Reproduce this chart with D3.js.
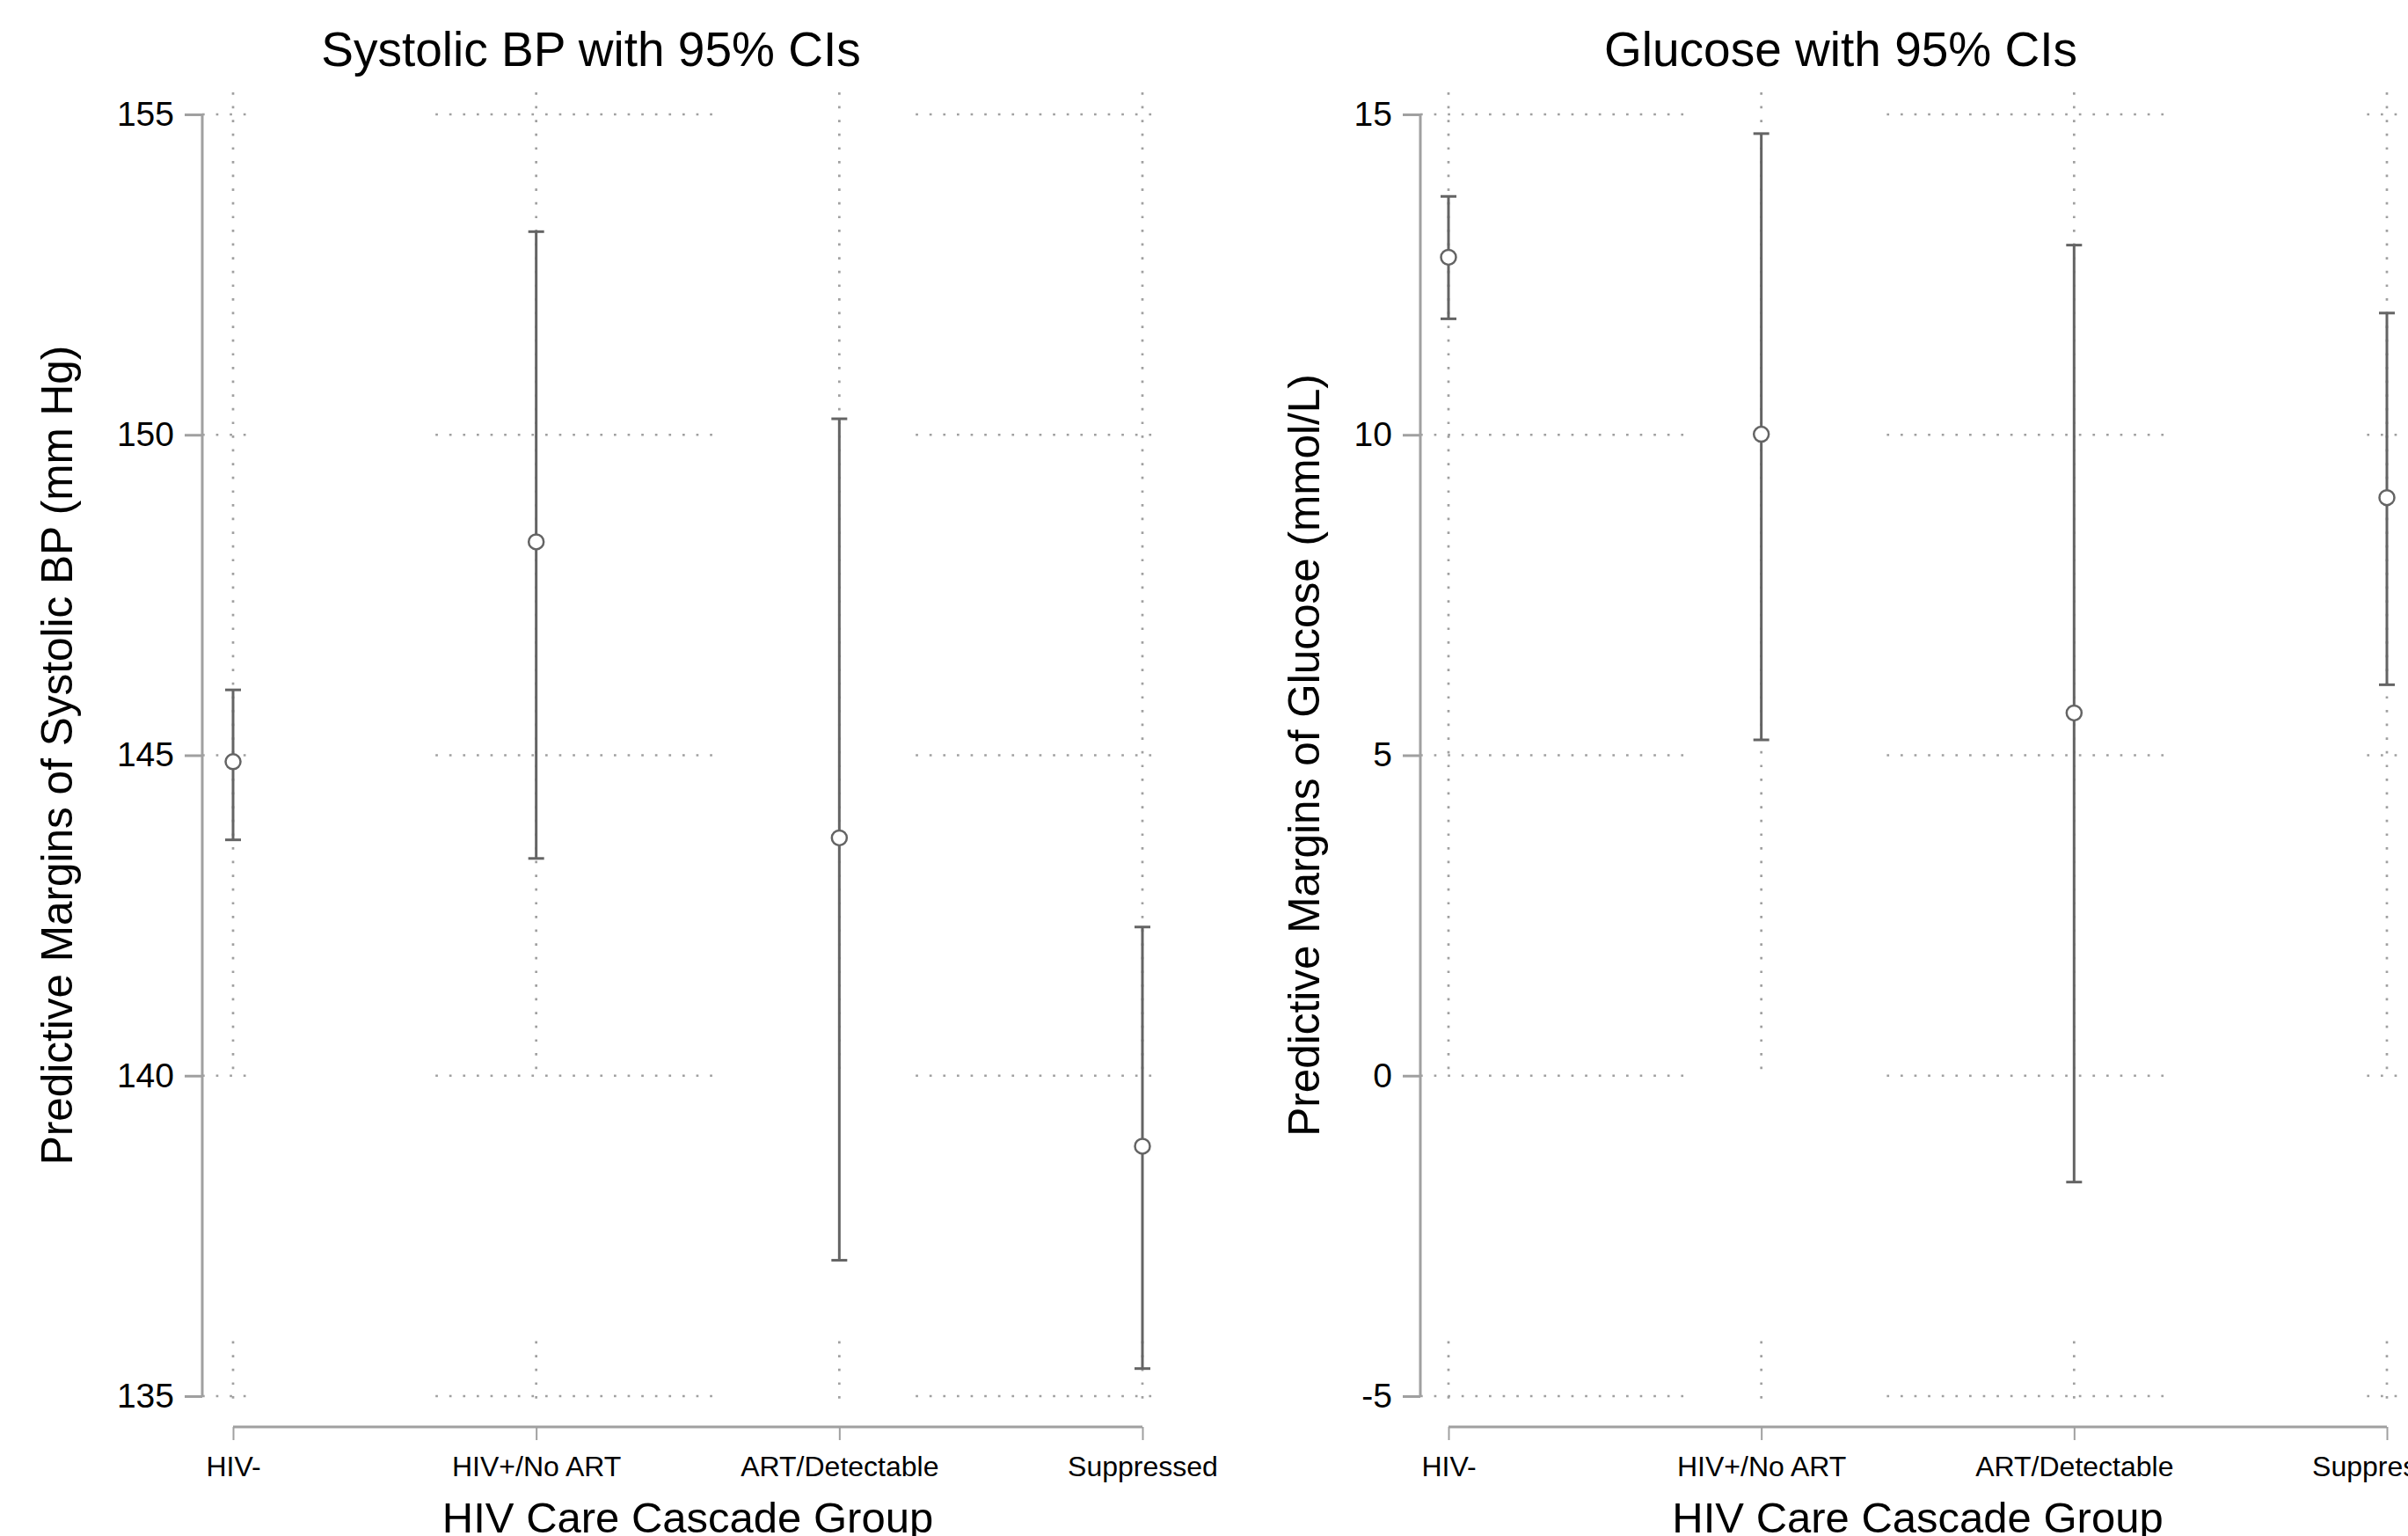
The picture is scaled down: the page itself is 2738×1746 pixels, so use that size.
<!DOCTYPE html>
<html>
<head>
<meta charset="utf-8">
<script src="https://cdn.jsdelivr.net/npm/d3@7"></script>
<style>
  html, body { margin: 0; padding: 0; background: #ffffff; }
  svg { display: block; }
  text { font-family: "Liberation Sans", Arial, Helvetica, sans-serif; fill: #000; }
</style>
</head>
<body>
<svg id="chart" width="2738" height="1746"></svg>
<script>
// ---------------- data ----------------
const categories = ["HIV-", "HIV+/No ART", "ART/Detectable", "Suppressed"];

const sbpMargin = [144.90, 148.33, 143.71, 138.90];
const sbpLower  = [143.68, 143.39, 137.12, 135.43];
const sbpUpper  = [146.02, 153.17, 150.25, 142.32];
const sbpTicks  = [135, 140, 145, 150, 155];

const gluMargin = [12.77, 10.01, 5.66, 9.02];
const gluLower  = [11.81, 5.24, -1.66, 6.10];
const gluUpper  = [13.72, 14.70, 12.96, 11.90];
const gluTicks  = [-5, 0, 5, 10, 15];

const titles  = ["Systolic BP with 95% CIs", "Glucose with 95% CIs"];
const yTitles = ["Predictive Margins of Systolic BP (mm Hg)", "Predictive Margins of Glucose (mmol/L)"];
const xTitle  = "HIV Care Cascade Group";

// ---------------- layout ----------------
const panels = [
  { margin: sbpMargin, lower: sbpLower, upper: sbpUpper, ticks: sbpTicks,
    title: titles[0], yTitle: yTitles[0],
    axisX: 230, xRange: [265, 1299], gridRight: 1322, titleX: 672, yTitleX: 82, moirePhase: 495 },
  { margin: gluMargin, lower: gluLower, upper: gluUpper, ticks: gluTicks,
    title: titles[1], yTitle: yTitles[1],
    axisX: 1615, xRange: [1647, 2714], gridRight: 2740, titleX: 2093, yTitleX: 1500, moirePhase: 2144 }
];
const yTop = 130, yBottom = 1587, plotTop = 105, plotBottom = 1605, xAxisY = 1622;

const svg = d3.select("#chart");
const barColor = "#646464", axisColor = "#a0a0a0", gridColor = "#a0a0a0";

const DOT = 2.7, STEP = 15.6;
// dotted pattern that only shows dots inside the given windows (relative to line start),
// imitating the partly vanished dotted grid of the reference raster
function windowDash(len, windows) {
  const segs = [];
  for (let s = 0; s < len; s += STEP) {
    if (windows.some(([a, b]) => s >= a && s + DOT <= b)) segs.push(s);
  }
  if (!segs.length) return "0 " + (len + 10);
  const arr = [];
  if (segs[0] > 0) arr.push(0, segs[0]);
  segs.forEach((s, i) => {
    const next = i + 1 < segs.length ? segs[i + 1] : len + 10;
    arr.push(DOT, next - s - DOT);
  });
  return arr.join(" ");
}
const P = 545, V = 330;

panels.forEach(p => {
  const x = d3.scalePoint().domain(categories).range(p.xRange);
  const y = d3.scaleLinear().domain([d3.min(p.ticks), d3.max(p.ticks)]).range([yBottom, yTop]);
  const g = svg.append("g");

  // horizontal grid lines (visible windows repeat every P px)
  const hLen = p.gridRight - p.axisX;
  const hWin = [];
  for (let k = -2; k < 6; k++) {
    const a = p.moirePhase + k * P - p.axisX;
    hWin.push([a, a + V]);
  }
  const hDash = windowDash(hLen, hWin);
  g.append("g").selectAll("line").data(p.ticks).join("line")
    .attr("x1", p.axisX).attr("x2", p.gridRight)
    .attr("y1", d => y(d)).attr("y2", d => y(d))
    .attr("stroke", gridColor).attr("stroke-width", DOT)
    .attr("stroke-dasharray", hDash);

  // vertical grid lines
  const vLen = plotBottom - plotTop;
  const vDash = windowDash(vLen, [[0, y(p.ticks[1]) - plotTop + 2], [1519 - plotTop, vLen]]);
  g.append("g").selectAll("line").data(categories).join("line")
    .attr("x1", d => x(d)).attr("x2", d => x(d))
    .attr("y1", plotTop).attr("y2", plotBottom)
    .attr("stroke", gridColor).attr("stroke-width", DOT)
    .attr("stroke-dasharray", vDash);

  // y axis
  const yAxis = d3.axisLeft(y).tickValues(p.ticks).tickSize(20).tickPadding(12).tickFormat(d => String(d));
  const ya = g.append("g").attr("transform", `translate(${p.axisX},0)`).call(yAxis);
  ya.select(".domain").attr("d", `M0,${yTop}V${yBottom}`).attr("stroke", axisColor).attr("stroke-width", 3);
  ya.selectAll(".tick line").attr("stroke", axisColor).attr("stroke-width", 3);
  ya.selectAll(".tick text").attr("font-size", 39).attr("font-family", "Liberation Sans, Arial, sans-serif").attr("fill", "#000");

  // x axis
  const xAxis = d3.axisBottom(x).tickSize(15).tickPadding(40);
  const xa = g.append("g").attr("transform", `translate(0,${xAxisY})`).call(xAxis);
  xa.select(".domain").attr("d", `M${p.xRange[0]},0H${p.xRange[1]}`).attr("stroke", axisColor).attr("stroke-width", 3);
  xa.selectAll(".tick line").attr("stroke", axisColor).attr("stroke-width", 2);
  xa.selectAll(".tick text").attr("font-size", 32).attr("dy", null).attr("y", 56)
    .attr("font-family", "Liberation Sans, Arial, sans-serif").attr("fill", "#000");

  // error bars
  const idx = d3.range(categories.length);
  const bars = g.append("g");
  bars.selectAll("line.ci").data(idx).join("line").attr("class", "ci")
    .attr("x1", i => x(categories[i])).attr("x2", i => x(categories[i]))
    .attr("y1", i => y(p.lower[i])).attr("y2", i => y(p.upper[i]))
    .attr("stroke", barColor).attr("stroke-width", 3);
  bars.selectAll("line.capU").data(idx).join("line").attr("class", "capU")
    .attr("x1", i => x(categories[i]) - 9).attr("x2", i => x(categories[i]) + 9)
    .attr("y1", i => y(p.upper[i])).attr("y2", i => y(p.upper[i]))
    .attr("stroke", barColor).attr("stroke-width", 3);
  bars.selectAll("line.capL").data(idx).join("line").attr("class", "capL")
    .attr("x1", i => x(categories[i]) - 9).attr("x2", i => x(categories[i]) + 9)
    .attr("y1", i => y(p.lower[i])).attr("y2", i => y(p.lower[i]))
    .attr("stroke", barColor).attr("stroke-width", 3);
  bars.selectAll("circle").data(idx).join("circle")
    .attr("cx", i => x(categories[i])).attr("cy", i => y(p.margin[i])).attr("r", 8.5)
    .attr("fill", "#fff").attr("stroke", barColor).attr("stroke-width", 2.5);

  // titles
  g.append("text").attr("x", p.titleX).attr("y", 75).attr("text-anchor", "middle")
    .attr("font-size", 55).text(p.title);
  g.append("text").attr("transform", `translate(${p.yTitleX},${(yTop + yBottom) / 2}) rotate(-90)`)
    .attr("text-anchor", "middle").attr("font-size", 49.5).text(p.yTitle);
  g.append("text").attr("x", (p.xRange[0] + p.xRange[1]) / 2).attr("y", 1742).attr("text-anchor", "middle")
    .attr("font-size", 49).text(xTitle);
});
</script>
</body>
</html>
